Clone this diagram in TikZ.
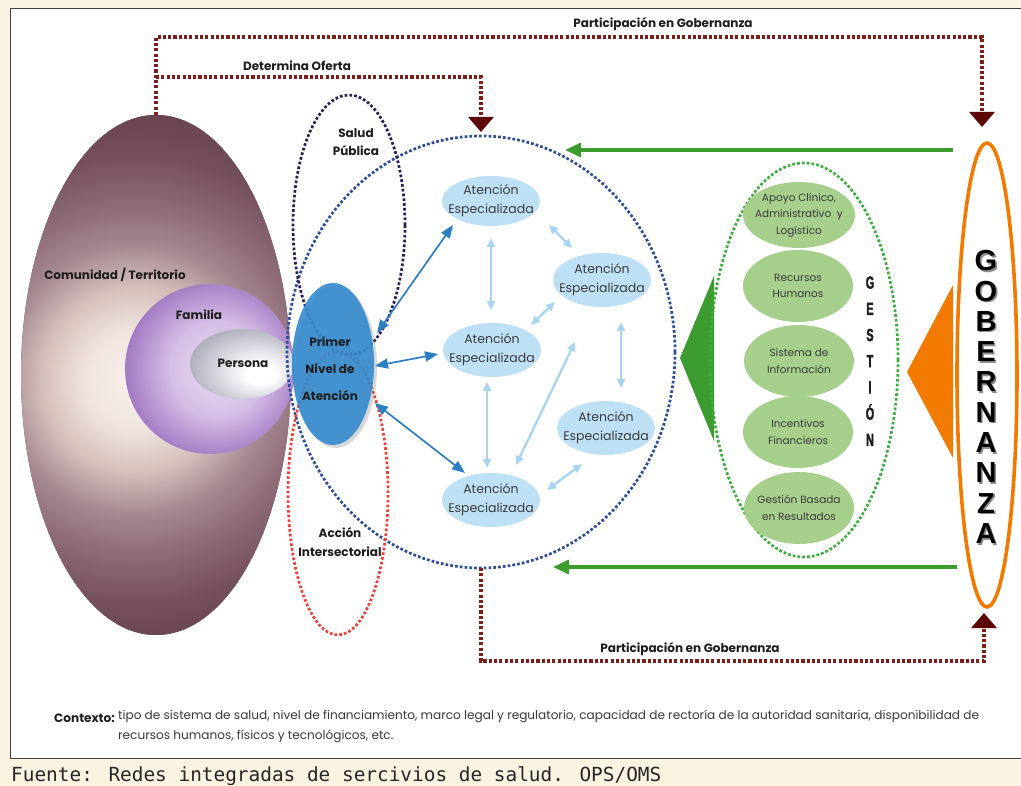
\documentclass[tikz,border=0pt]{standalone}
\usepackage{fontspec}
\setmainfont{Poppins}
\newfontfamily\capfont{DejaVu Sans Mono}
\newfontfamily\heavyfont{Liberation Sans}
\newfontfamily\gesfont[BoldFeatures={FakeBold=2.5}]{Liberation Sans}
\usetikzlibrary{arrows.meta,calc,shapes.geometric,shadows}

\definecolor{bgcream}{HTML}{FBF3E2}
\definecolor{boxline}{HTML}{4A3C3C}
\definecolor{conred}{HTML}{7E1E16}
\definecolor{tipred}{HTML}{5C0707}
\definecolor{netblue}{HTML}{2C4C9C}
\definecolor{spblue}{HTML}{2B1B57}
\definecolor{aired}{HTML}{F0403A}
\definecolor{pnfill}{HTML}{338ACE}
\definecolor{pnline}{HTML}{2C7EC3}
\definecolor{aefill}{HTML}{BEE0F5}
\definecolor{aeline}{HTML}{A8D4F1}
\definecolor{aetext}{HTML}{3A3A3A}
\definecolor{gfill}{HTML}{A7CF8C}
\definecolor{gdot}{HTML}{3DAE3D}
\definecolor{gmain}{HTML}{3C9C30}
\definecolor{orng}{HTML}{F27A00}
\definecolor{ink}{HTML}{1E1E1E}
% community / family / person gradients
\definecolor{comA}{HTML}{F7F0EB}
\definecolor{comB}{HTML}{F0E4DE}
\definecolor{comC}{HTML}{D5BFBB}
\definecolor{comD}{HTML}{A68890}
\definecolor{comE}{HTML}{8C6A76}
\definecolor{comF}{HTML}{74505F}
\definecolor{comG}{HTML}{64404F}
\definecolor{comH}{HTML}{5A3344}
\definecolor{famA}{HTML}{EADFF2}
\definecolor{famB}{HTML}{D4BDE6}
\definecolor{famC}{HTML}{B897D2}
\definecolor{famD}{HTML}{8F62B5}
\definecolor{famE}{HTML}{7B4CA0}
\definecolor{perA}{HTML}{FFFFFF}
\definecolor{perB}{HTML}{E2E2E8}
\definecolor{perC}{HTML}{B2B3BF}
\definecolor{perD}{HTML}{8F90A0}

\pgfdeclareradialshading{comshade}{\pgfpoint{0bp}{0bp}}{color(0bp)=(comA); color(4.1bp)=(comB); color(7.7bp)=(comC); color(11.2bp)=(comD); color(14.7bp)=(comE); color(18.8bp)=(comF); color(23.6bp)=(comG); color(29.4bp)=(comH); color(50bp)=(comH)}
\pgfdeclareradialshading{famshade}{\pgfpoint{3bp}{0bp}}{color(0bp)=(famA); color(14bp)=(famB); color(21bp)=(famC); color(31bp)=(famD); color(40bp)=(famE); color(50bp)=(famE)}
\pgfdeclareradialshading{pershade}{\pgfpoint{10.9bp}{-8bp}}{color(0bp)=(perA); color(7bp)=(perA); color(15.6bp)=(perB); color(29bp)=(perC); color(45bp)=(perD); color(50bp)=(perD)}

\begin{document}
\begin{tikzpicture}[x=1pt,y=-1pt,
  blob/.style={ellipse, inner sep=0pt, outer sep=0pt},
  dotln/.style={line width=2.7pt, dash pattern=on 2.7pt off 2.1pt},
  lbl/.style={inner sep=0pt, align=center, text=ink, font=\fontsize{12}{14}\selectfont\bfseries},
  conlbl/.style={lbl, font=\fontsize{12}{14}\selectfont\bfseries},
  aeshape/.style={blob, fill=aefill, minimum width=98pt, minimum height=54pt},
  aetxt/.style={inner sep=0pt, align=center, text=aetext, font=\fontsize{12.5}{19}\selectfont},
  gshape/.style={blob, fill=gfill, minimum width=110pt, minimum height=72pt},
  gtxt/.style={inner sep=0pt, align=center, text=aetext, font=\fontsize{10.5}{16.5}\selectfont},
  pnarrow/.style={draw=pnline, line width=1.7pt, {Triangle[length=13pt,width=10pt]}-{Triangle[length=13pt,width=10pt]}},
  aearrow/.style={draw=aeline, line width=2.3pt, {Triangle[length=9pt,width=8pt]}-{Triangle[length=9pt,width=8pt]}},
  garrow/.style={draw=gmain, line width=3.2pt, -{Triangle[length=16pt,width=14pt]}},
  rcon/.style={draw=conred, line width=3.1pt, dash pattern=on 3.1pt off 2.2pt, -{Triangle[length=15pt,width=25pt,fill=tipred,color=tipred]}}
]
\useasboundingbox (0,0) rectangle (1021,786);
\fill[bgcream] (0,0) rectangle (1021,786);
\draw[boxline, line width=1.6pt, fill=white] (10.5,8.5) rectangle (1030,758.5);

% community, family, person
\node[blob, minimum width=270pt, minimum height=520pt, fill=comH,
      path picture={\shade[shading=comshade] ($(path picture bounding box.center)+(-21,5)$) circle[radius=300];}] (com) at (156,375) {};
\node[blob, minimum width=170pt, minimum height=170pt, shading=famshade] (fam) at (210,369) {};
\node[blob, minimum width=104pt, minimum height=70pt, shading=pershade] (per) at (242,364) {};
\node[lbl] (comt) at (115,275) {Comunidad / Territorio};
\node[lbl] (famt) at (199,315) {Familia};
\node[lbl] (pert) at (243,363) {Persona};

% dotted scopes
\node[blob, dotln, draw=netblue, minimum width=388pt, minimum height=432pt] (net) at (481,352) {};
\node[blob, dotln, draw=spblue, minimum width=112pt, minimum height=260pt] (sp) at (349,225) {};
\node[blob, dotln, draw=aired, minimum width=100pt, minimum height=284pt] (ai) at (338,493) {};
\node[lbl, font=\fontsize{12}{18}\selectfont\bfseries] (spt) at (356,142) {Salud\\Pública};
\node[lbl, font=\fontsize{12}{19}\selectfont\bfseries] (ait) at (340,542) {Acción\\Intersectorial};

% first level of care
\node[blob, fill=pnfill, fill opacity=0.9, minimum width=82pt, minimum height=162pt,
      drop shadow={opacity=0.3, shadow xshift=3pt, shadow yshift=-3pt}] (pn) at (333,364) {};
\node[lbl, font=\fontsize{12}{27}\selectfont\bfseries] (pnt) at (330,369) {Primer\\Nivel de\\Atención};

% specialised care
\node[aeshape, minimum height=50pt] (a1) at (491,201) {};
\node[aeshape] (a2) at (602,280) {};
\node[aeshape] (a3) at (492,350) {};
\node[aeshape] (a4) at (606,428) {};
\node[aeshape] (a5) at (491,500) {};
\foreach \n in {a1,a2,a3,a4,a5}
  \node[aetxt] (\n t) at (\n) {Atención\\Especializada};

% links from first level
\draw[pnarrow] ($(pn)+(44,-31)$) -- ($(a1)+(-38,24)$);
\draw[pnarrow] ($(pn)+(42,2)$) -- ($(a3)+(-54,4)$);
\draw[pnarrow] ($(pn)+(42,39)$) -- ($(a5)+(-26,-27)$);

% links between specialised nodes
\draw[aearrow] ($(a1)+(0,37)$) -- ($(a3)+(-1,-40)$);
\draw[aearrow] ($(a1)+(58,24)$) -- ($(a2)+(-30,-32)$);
\draw[aearrow] ($(a3)+(39,-25)$) -- ($(a2)+(-47,22)$);
\draw[aearrow] ($(a2)+(19,42)$) -- ($(a4)+(15,-40)$);
\draw[aearrow] ($(a3)+(-5,32)$) -- ($(a5)+(-4,-32)$);
\draw[aearrow] ($(a5)+(25,-35)$) -- ($(a2)+(-27,62)$);
\draw[aearrow] ($(a5)+(56,-10)$) -- ($(a4)+(-24,36)$);

% management
\fill[gmain] (680,358) -- (714,276) -- (714,441) -- cycle;
\node[blob, dotln, draw=gdot, minimum width=188pt, minimum height=394pt] (ges) at (804,360) {};
\node[gshape, minimum width=112pt, minimum height=66pt] (g1) at (799,215) {};
\node[gshape] (g2) at (798,286) {};
\node[gshape] (g3) at (799,361) {};
\node[gshape] (g4) at (798,432) {};
\node[gshape] (g5) at (799,508) {};
\node[gtxt] (g1t) at (g1) {Apoyo Clínico,\\Administrativo \ y\\Logístico};
\node[gtxt] (g2t) at (g2) {Recursos\\Humanos};
\node[gtxt] (g3t) at (g3) {Sistema de\\Información};
\node[gtxt] (g4t) at (g4) {Incentivos\\Financieros};
\node[gtxt] (g5t) at (g5) {Gestión Basada\\en Resultados};
\node[inner sep=0pt, text=ink] (gesl) at (870,362)
  {\scalebox{0.62}[1]{\gesfont\bfseries\fontsize{17.5}{26.2}\selectfont
   \begin{tabular}{@{}c@{}}G\\E\\S\\T\\I\\Ó\\N\end{tabular}}};

% governance
\fill[orng] (907,372) -- (953,285) -- (953,458) -- cycle;
\node[blob, draw=orng, line width=3.6pt, fill=white, minimum width=60pt, minimum height=464pt] (gob) at (987,375) {};
\node[inner sep=0pt, align=center, text=black!45, font=\heavyfont\fontsize{29}{30.3}\selectfont\bfseries] (gobs) at (987.6,398.6) {G\\O\\B\\E\\R\\N\\A\\N\\Z\\A};
\node[inner sep=0pt, align=center, text=black, font=\heavyfont\fontsize{29}{30.3}\selectfont\bfseries] (gobl) at (986,397) {G\\O\\B\\E\\R\\N\\A\\N\\Z\\A};

% governance flows
\coordinate (gt1) at (953,150);
\coordinate (gt2) at (565,150);
\coordinate (gb1) at (957,567);
\coordinate (gb2) at (553,567);
\draw[garrow] (gt1) -- (gt2);
\draw[garrow] (gb1) -- (gb2);

% participation and supply connectors
\coordinate (pgTop) at (982,37);
\coordinate (doTop) at (481,77);
\coordinate (pgBot) at (984,661);
\draw[rcon, shorten >=16pt] (com.north) |- (pgTop) -- (pgTop |- gob.north);
\draw[rcon, shorten >=4pt] (com.north |- doTop) -- (doTop) -- (doTop |- net.north);
\draw[rcon, shorten >=6pt] (net.south) |- (pgBot) -- (pgBot |- gob.south);
\node[conlbl] (pgTopt) at (663,24) {Participación en Gobernanza};
\node[conlbl] (dot) at (297,66) {Determina Oferta};
\node[conlbl] (pgBott) at (690,649) {Participación en Gobernanza};

% context note
\node[anchor=base east, inner sep=0pt, text=ink, font=\fontsize{12.1}{20}\selectfont\bfseries] (ctxl) at (115,722) {Contexto:};
\node[anchor=north west, inner sep=0pt, align=left, text=aetext, font=\fontsize{12.1}{20}\selectfont] (ctx) at (118,710) {tipo de sistema de salud, nivel de financiamiento, marco legal y regulatorio, capacidad de rectoría de la autoridad sanitaria, disponibilidad de\\recursos humanos, físicos y tecnológicos, etc.};

% source line
\node[anchor=base west, inner sep=0pt, text=black!85, font=\capfont\fontsize{19.4}{22}\selectfont] (src) at (11,781) {Fuente: Redes integradas de sercivios de salud. OPS/OMS};
\end{tikzpicture}
\end{document}
